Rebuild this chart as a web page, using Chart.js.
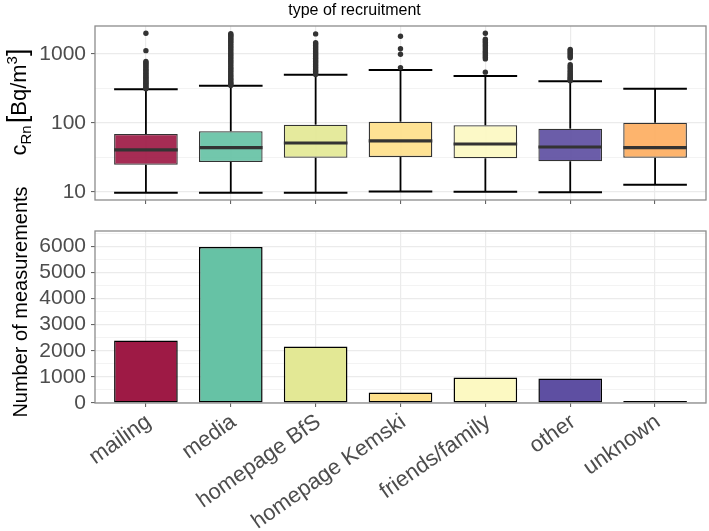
<!DOCTYPE html>
<html><head><meta charset="utf-8">
<script src="https://cdn.jsdelivr.net/npm/chart.js@4.4.0/dist/chart.umd.min.js"></script>
<style>
html,body{margin:0;padding:0;background:#fff;}
#wrap{position:relative;width:709px;height:531px;overflow:hidden;font-family:"Liberation Sans",Arial,sans-serif;}
#c1{position:absolute;left:0;top:0;}
#c2{position:absolute;left:0;top:210px;}
.title{position:absolute;left:0;width:709px;top:1px;text-align:center;font-size:16px;line-height:18px;color:#000;}
.ytitle{position:absolute;transform:translate(-50%,-50%) rotate(-90deg);white-space:nowrap;color:#000;line-height:1;}
</style></head>
<body>
<div id="wrap">
<canvas id="c1" width="709" height="215"></canvas>
<canvas id="c2" width="709" height="321"></canvas>
<div class="title">type of recruitment</div>
<div class="ytitle" style="left:18px;top:102px;font-size:22px;">c<sub style="font-size:15px;vertical-align:-5px">Rn</sub><span style="font-size:27px;margin-left:2px">[</span>Bq/m<sup style="font-size:15px;vertical-align:9px">3</sup><span style="font-size:27px">]</span></div>
<div class="ytitle" style="left:20px;top:302px;font-size:20px;">Number of measurements</div>
</div>
<script>
// ---- data ----
const categories = ["mailing", "media", "homepage BfS", "homepage Kemski", "friends/family", "other", "unknown"];
const lowerWhisker = [9.7, 9.7, 9.7, 10.1, 10.0, 9.8, 12.6];
const q1 = [24.7, 27.0, 31.2, 31.9, 30.6, 27.7, 31.2];
const medians = [40.4, 43.6, 51.0, 54.6, 49.3, 44.6, 43.6];
const q3 = [69, 75.5, 94.2, 104, 92.3, 82.4, 100.7];
const upperWhisker = [308, 347, 502, 587, 481, 402, 314];
const outliersMailing = [2000, 1120, 780, 750, 720, 690, 660, 630, 600, 575, 550, 525, 500, 480, 460, 440, 420, 405, 390, 375, 360, 345, 332, 320, 312];
const outliersMedia = [1980, 1900, 1850, 1780, 1700, 1620, 1550, 1480, 1400, 1330, 1260, 1200, 1140, 1080, 1020, 970, 920, 870, 820, 780, 740, 700, 660, 620, 590, 560, 530, 500, 475, 450, 430, 410, 390, 375, 360, 350];
const outliersBfS = [1960, 1460, 1400, 1330, 1260, 1200, 1140, 1080, 1020, 970, 920, 870, 820, 780, 740, 700, 660, 625, 590, 560, 530, 505];
const outliersKemski = [1815, 1190, 990, 635];
const outliersFriends = [2000, 1640, 1560, 1480, 1400, 1330, 1260, 1190, 1120, 1060, 1000, 950, 900, 850, 545];
const outliersOther = [1170, 1120, 1070, 1020, 970, 920, 880, 700, 660, 625, 590, 560, 530, 505, 480, 460, 440, 425, 410];
const outliersUnknown = [];
const counts = [2390, 5975, 2160, 405, 977, 939, 25];
const logTicks = [10, 31.62, 100, 316.2, 1000];
const logLabels = [10, 100, 1000];
const countTicks = [0, 500, 1000, 1500, 2000, 2500, 3000, 3500, 4000, 4500, 5000, 5500, 6000, 6500];

const colors = ["#9E1A45", "#66C2A5", "#E3E895", "#FEE08B", "#FCF9C2", "#5E4FA2", "#FDAE61"];
const colorsA = ["rgba(158,26,69,0.92)", "rgba(102,194,165,0.92)", "rgba(227,232,149,0.92)", "rgba(254,224,139,0.92)", "rgba(252,249,194,0.92)", "rgba(94,79,162,0.92)", "rgba(253,174,97,0.92)"];

const FAMILY = '"Liberation Sans", Arial, sans-serif';
const outlierGroups = [outliersMailing, outliersMedia, outliersBfS, outliersKemski, outliersFriends, outliersOther, outliersUnknown];
const outlierPoints = [];
outlierGroups.forEach((arr, i) => arr.forEach(v => outlierPoints.push({x: i, y: v})));

const panelBorder = {
  id: 'panelBorder',
  afterDraw(chart) {
    const {ctx, chartArea: a} = chart;
    ctx.save();
    ctx.strokeStyle = '#8c8c8c';
    ctx.lineWidth = 1.3;
    ctx.strokeRect(a.left, a.top, a.right - a.left, a.bottom - a.top);
    ctx.restore();
  }
};

function zeroPad(s) { s.paddingTop = 0; s.paddingBottom = 0; s.paddingLeft = 0; s.paddingRight = 0; }

function xScale(showLabels, height) {
  return {
    type: 'linear', min: -0.6, max: 6.6, bounds: 'data', offset: false,
    afterBuildTicks: s => { s.ticks = categories.map((c, i) => ({value: i})); },
    afterFit: s => { s.height = height; zeroPad(s); },
    ticks: {
      display: showLabels, autoSkip: false, minRotation: 35, maxRotation: 35,
      callback: v => categories[v] !== undefined ? categories[v] : '',
      font: {size: 22, family: FAMILY}, color: '#4d4d4d', padding: 2, labelOffset: 3
    },
    grid: {offset: false, color: '#ebebeb', lineWidth: 1.2, drawTicks: true, tickLength: 4, tickColor: '#555', tickWidth: 1},
    border: {display: false}
  };
}

new Chart(document.getElementById('c1'), {
  type: 'bar',
  plugins: [panelBorder],
  data: {
    datasets: [
      {type: 'scatter', order: 0, data: outlierPoints, pointRadius: 2.7, pointBackgroundColor: '#333', pointBorderWidth: 0},
      {type: 'scatter', order: 1, data: medians.map((v, i) => ({x: i, y: v})), pointStyle: 'line', pointRadius: 31.8, pointBorderColor: '#333', pointBorderWidth: 3.2},
      {type: 'scatter', order: 2, data: lowerWhisker.map((v, i) => ({x: i, y: v})).concat(upperWhisker.map((v, i) => ({x: i, y: v}))), pointStyle: 'line', pointRadius: 31.8, pointBorderColor: '#000', pointBorderWidth: 2},
      {type: 'bar', order: 3, grouped: false, data: categories.map((c, i) => ({x: i, y: [q1[i], q3[i]]})), backgroundColor: colorsA, borderColor: '#333', borderWidth: 1.3, borderSkipped: false, categoryPercentage: 1, barPercentage: 0.75},
      {type: 'bar', order: 4, grouped: false, data: categories.map((c, i) => ({x: i, y: [lowerWhisker[i], q1[i]]})), backgroundColor: '#000', borderWidth: 0, maxBarThickness: 1.8},
      {type: 'bar', order: 4, grouped: false, data: categories.map((c, i) => ({x: i, y: [q3[i], upperWhisker[i]]})), backgroundColor: '#000', borderWidth: 0, maxBarThickness: 1.8}
    ]
  },
  options: {
    responsive: false, animation: false, events: [],
    layout: {autoPadding: false, padding: {top: 26, right: 3, left: 0, bottom: 5}},
    plugins: {legend: {display: false}, tooltip: {enabled: false}, title: {display: false}},
    scales: {
      x: xScale(false, 10),
      y: {
        type: 'logarithmic', min: 7.58, max: 2553, bounds: 'data',
        afterBuildTicks: s => { s.ticks = logTicks.map(v => ({value: v})); },
        afterFit: s => { s.width = 95; zeroPad(s); },
        ticks: {
          autoSkip: false, callback: v => logLabels.includes(v) ? String(v) : '',
          font: {size: 21, family: FAMILY}, color: '#4d4d4d', padding: 5
        },
        grid: {
          color: '#ebebeb',
          lineWidth: c => (c.tick && logLabels.includes(c.tick.value)) ? 1.2 : 0.6,
          tickColor: c => (c.tick && logLabels.includes(c.tick.value)) ? '#555' : 'rgba(0,0,0,0)',
          tickLength: 4, tickWidth: 1
        },
        border: {display: false}
      }
    }
  }
});

new Chart(document.getElementById('c2'), {
  type: 'bar',
  plugins: [panelBorder],
  data: {
    datasets: [
      {data: counts.map((v, i) => ({x: i, y: v})), backgroundColor: colors, borderColor: '#000', borderWidth: 1.5, borderSkipped: false, minBarLength: 2, categoryPercentage: 1, barPercentage: 0.75}
    ]
  },
  options: {
    responsive: false, animation: false, events: [],
    layout: {autoPadding: false, padding: {top: 21, right: 3, left: 0, bottom: 0}},
    plugins: {legend: {display: false}, tooltip: {enabled: false}},
    scales: {
      x: xScale(true, 128),
      y: {
        type: 'linear', min: 0, max: 6590, bounds: 'data',
        afterBuildTicks: s => { s.ticks = countTicks.map(v => ({value: v})); },
        afterFit: s => { s.width = 95; zeroPad(s); },
        ticks: {
          autoSkip: false, callback: v => (v % 1000 === 0) ? String(v) : '',
          font: {size: 21, family: FAMILY}, color: '#4d4d4d', padding: 5
        },
        grid: {
          color: '#ebebeb',
          lineWidth: c => (c.tick && c.tick.value % 1000 === 0) ? 1.2 : 0.6,
          tickColor: c => (c.tick && c.tick.value % 1000 === 0) ? '#555' : 'rgba(0,0,0,0)',
          tickLength: 4, tickWidth: 1
        },
        border: {display: false}
      }
    }
  }
});
</script>
</body></html>
